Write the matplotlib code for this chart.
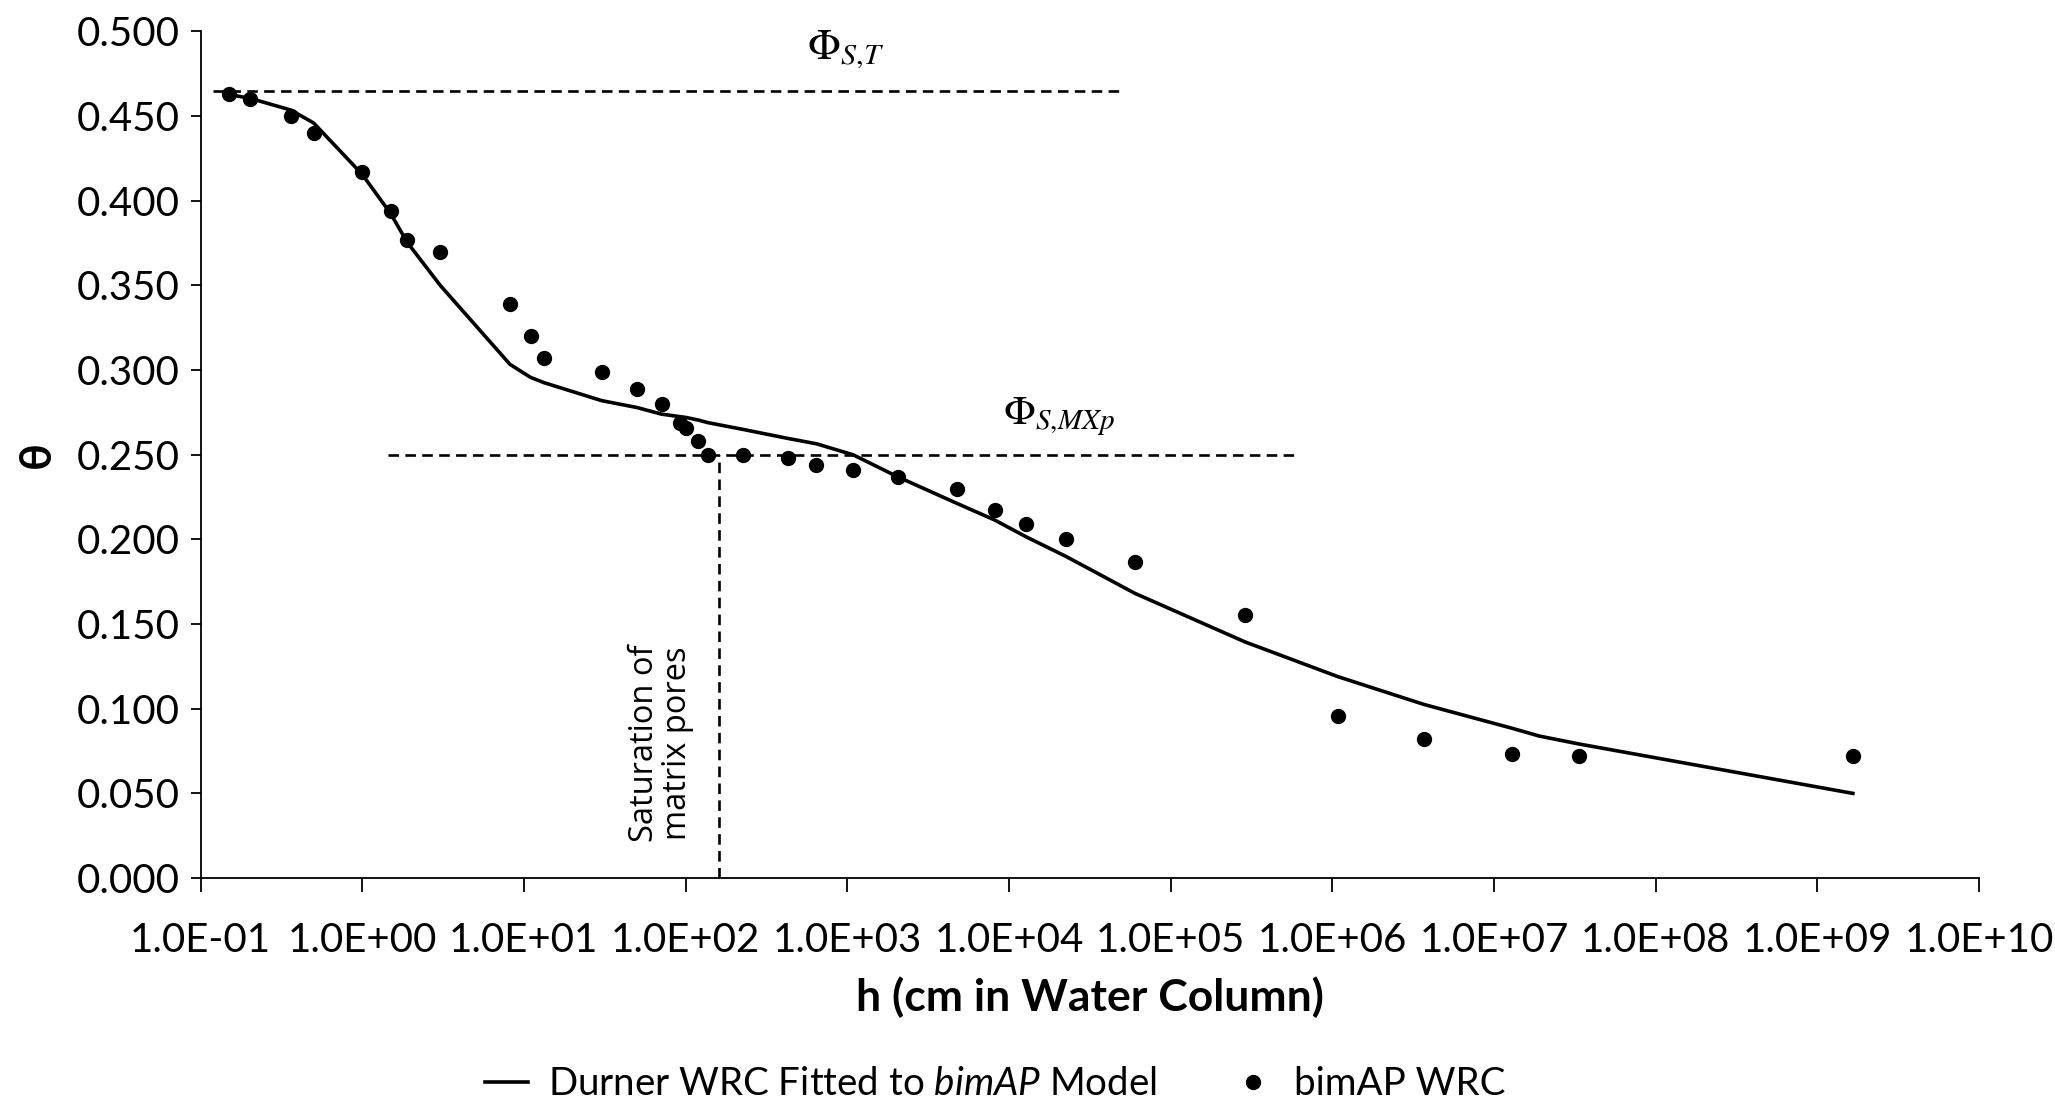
import numpy as np
import matplotlib
matplotlib.use("Agg")
import matplotlib.pyplot as plt
from matplotlib.ticker import FixedLocator, FuncFormatter, FormatStrFormatter

plt.rcParams['font.family'] = ['Lato', 'DejaVu Sans']
plt.rcParams['mathtext.fontset'] = 'custom'
plt.rcParams['mathtext.rm'] = 'Lato'
plt.rcParams['mathtext.it'] = 'Lato:italic'
plt.rcParams['mathtext.bf'] = 'Lato:bold'

# measured suction head (cm) and water content
h_meas = [0.15, 0.203, 0.362, 0.50, 1.0, 1.5, 1.9, 3.04, 8.2, 11.0, 13.3,
          30.2, 50.0, 71.0, 92.5, 101.0, 120.0, 137.0, 226.0, 427.0, 644.0,
          1086.0, 2050.0, 4740.0, 8150.0, 12740.0, 22700.0, 60000.0,
          2.88e5, 1.08e6, 3.7e6, 1.29e7, 3.35e7, 1.66e9]
theta_meas = [0.463, 0.460, 0.450, 0.440, 0.417, 0.394, 0.377, 0.370, 0.339,
              0.320, 0.307, 0.299, 0.289, 0.280, 0.269, 0.266, 0.258, 0.250,
              0.250, 0.248, 0.244, 0.241, 0.237, 0.230, 0.2175, 0.209, 0.200,
              0.1865, 0.1556, 0.096, 0.082, 0.0735, 0.072, 0.072]

# Durner fit
h_fit = [0.15, 0.203, 0.362, 0.50, 1.0, 1.5, 1.9, 3.04, 8.2, 11.0, 13.3,
         30.2, 50.0, 71.0, 92.5, 101.0, 120.0, 137.0, 226.0, 427.0, 644.0,
         1086.0, 2050.0, 4740.0, 8150.0, 12740.0, 22700.0, 60000.0,
         2.88e5, 1.08e6, 3.7e6, 1.29e7, 1.9e7, 3.35e7, 1.66e9]
theta_fit = [0.4628, 0.4605, 0.4536, 0.4460, 0.4156, 0.3924, 0.3754, 0.3500,
             0.3034, 0.2957, 0.2926, 0.2820, 0.2779, 0.2740, 0.2725, 0.2720,
             0.2705, 0.2690, 0.2650, 0.2597, 0.2565, 0.2500, 0.2370, 0.2214,
             0.2115, 0.2016, 0.1898, 0.1682, 0.1395, 0.1190, 0.1025, 0.0885,
             0.0839, 0.0792, 0.0500]

phi_st = 0.465
phi_st_h = [0.12, 4.9e4]
phi_mxp = 0.250
phi_mxp_h = [1.44, 5.85e5]
h_sat_matrix = 162.0

x_ticks = [10.0 ** k for k in range(-1, 11)]
y_ticks = [0.0, 0.05, 0.1, 0.15, 0.2, 0.25, 0.3, 0.35, 0.4, 0.45, 0.5]

fig = plt.figure(figsize=(20.55, 11.13), dpi=100)
ax = fig.add_axes([0.0976, 0.2111, 0.8654, 0.7606])

dash = (0, (4, 2.4))
ax.plot(phi_st_h, [phi_st, phi_st], color='black', lw=1.9, linestyle=dash)
ax.plot(phi_mxp_h, [phi_mxp, phi_mxp], color='black', lw=1.9, linestyle=dash)
ax.plot([h_sat_matrix, h_sat_matrix], [0, phi_mxp], color='black', lw=1.9,
        linestyle=dash)

line, = ax.plot(h_fit, theta_fit, color='black', lw=2.6,
                label='Durner WRC Fitted to $\\mathit{bimAP}$ Model')
pts, = ax.plot(h_meas, theta_meas, 'o', color='black', markersize=10,
               label='bimAP WRC')

ax.text(970, 0.489, r'$\Phi_{S{,}T}$', fontsize=31, ha='center', va='center',
        math_fontfamily='stix')
ax.text(2.03e4, 0.2724, r'$\Phi_{S{,}MXp}$', fontsize=30, ha='center',
        va='center', math_fontfamily='stix')
ax.text(70, 0.0797, 'Saturation of\nmatrix pores', rotation=90, fontsize=23.5,
        family='Open Sans', ha='center', va='center', linespacing=1.0)

ax.set_xscale('log')
ax.set_xlim(0.1, 1e10)
ax.set_ylim(0, 0.5)
ax.xaxis.set_major_locator(FixedLocator(x_ticks))
ax.xaxis.set_minor_locator(FixedLocator([]))
ax.xaxis.set_major_formatter(FuncFormatter(lambda v, p: '{:.1E}'.format(v)))
ax.yaxis.set_major_locator(FixedLocator(y_ticks))
ax.yaxis.set_major_formatter(FormatStrFormatter('%.3f'))

for s in ['top', 'right']:
    ax.spines[s].set_visible(False)
for s in ['left', 'bottom']:
    ax.spines[s].set_linewidth(1.3)
ax.tick_params(axis='x', length=10, width=1.3, pad=22, labelsize=29)
ax.tick_params(axis='y', length=7, width=1.3, pad=8, labelsize=29)

ax.set_xlabel('h (cm in Water Column)', fontsize=32, fontweight='bold')
ax.set_ylabel('θ', fontsize=32, fontweight='bold')
ax.xaxis.set_label_coords(0.5, -0.1157)
ax.yaxis.set_label_coords(-0.081, 0.5)

fig.legend(handles=[line, pts], loc='center', bbox_to_anchor=(0.4844, 0.026),
           ncol=2, frameon=False, fontsize=27.7, handlelength=1.12,
           handletextpad=0.51, columnspacing=1.95)

plt.savefig('out.png', dpi=100)
